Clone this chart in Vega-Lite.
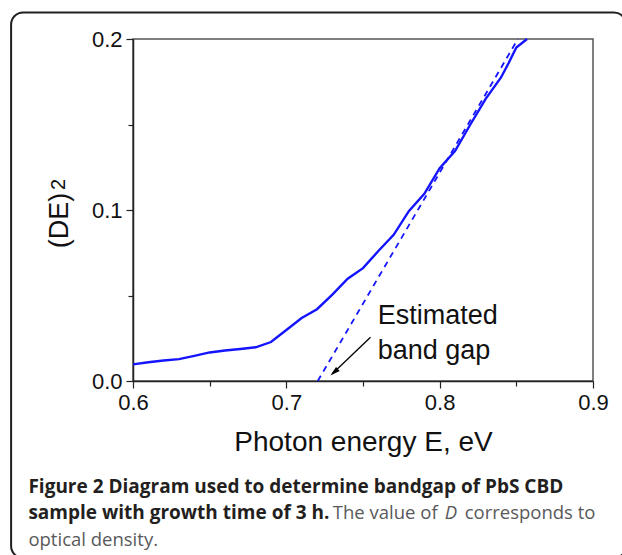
{
  "$schema": "https://vega.github.io/schema/vega-lite/v6.json",
  "autosize": {"type": "none"},
  "padding": {"left": 133, "top": 39, "right": 29, "bottom": 174},
  "width": 460,
  "height": 342,
  "background": "white",
  "config": {
    "view": {"stroke": "#555555", "strokeWidth": 1.5},
    "axis": {
      "labelFont": "Liberation Sans",
      "titleFont": "Liberation Sans",
      "labelFontSize": 22,
      "titleFontSize": 28,
      "labelColor": "#111111",
      "titleColor": "#111111",
      "titleFontWeight": "normal",
      "domainColor": "#222222",
      "domainWidth": 1.5,
      "tickColor": "#222222",
      "tickWidth": 1.2,
      "labelFlush": false,
      "labelOverlap": false,
      "grid": false
    }
  },
  "layer": [
    {
      "data": {"values": [{"x1": 0.5205, "x2": 0.9215, "y1": 0.2155, "y2": -0.1035}]},
      "mark": {"type": "rect", "fill": null, "stroke": "#231f20", "strokeWidth": 2, "cornerRadius": 12, "clip": false},
      "encoding": {
        "x": {"field": "x1", "type": "quantitative", "scale": {"domain": [0.6, 0.9], "nice": false, "zero": false}},
        "x2": {"field": "x2"},
        "y": {"field": "y1", "type": "quantitative", "scale": {"domain": [0, 0.2], "nice": false, "zero": false}},
        "y2": {"field": "y2"}
      }
    },
    {
      "data": {"values": [
        {"E": 0.60, "D": 0.0097}, {"E": 0.61, "D": 0.0110}, {"E": 0.62, "D": 0.0120},
        {"E": 0.63, "D": 0.0128}, {"E": 0.64, "D": 0.0147}, {"E": 0.65, "D": 0.0167},
        {"E": 0.66, "D": 0.0178}, {"E": 0.67, "D": 0.0187}, {"E": 0.68, "D": 0.0197},
        {"E": 0.69, "D": 0.0228}, {"E": 0.70, "D": 0.0298}, {"E": 0.71, "D": 0.0368},
        {"E": 0.72, "D": 0.0420}, {"E": 0.73, "D": 0.0505}, {"E": 0.74, "D": 0.0598},
        {"E": 0.75, "D": 0.0660}, {"E": 0.76, "D": 0.0760}, {"E": 0.77, "D": 0.0855},
        {"E": 0.78, "D": 0.0995}, {"E": 0.79, "D": 0.1095}, {"E": 0.80, "D": 0.1245},
        {"E": 0.81, "D": 0.1345}, {"E": 0.82, "D": 0.1500}, {"E": 0.83, "D": 0.1650},
        {"E": 0.84, "D": 0.1775}, {"E": 0.845, "D": 0.1860}, {"E": 0.85, "D": 0.1950},
        {"E": 0.857, "D": 0.2000}
      ]},
      "mark": {"type": "line", "color": "#1414ff", "strokeWidth": 2.4},
      "encoding": {
        "x": {"field": "E", "type": "quantitative", "scale": {"domain": [0.6, 0.9], "nice": false, "zero": false},
          "axis": {
            "title": "Photon energy E, eV",
            "values": [0.6, 0.65, 0.7, 0.75, 0.8, 0.85, 0.9],
            "labelExpr": "round(datum.value*100)%10==0 ? format(datum.value, '.1f') : ''",
            "tickSize": {"condition": {"test": "round(datum.value*100)%10==0", "value": 7}, "value": 5},
            "labelPadding": 4,
            "titleBaseline": "alphabetic",
            "titleY": 69
          }},
        "y": {"field": "D", "type": "quantitative", "scale": {"domain": [0, 0.2], "nice": false, "zero": false},
          "axis": {
            "title": "(DE)",
            "titleFontSize": 27,
            "values": [0, 0.05, 0.1, 0.15, 0.2],
            "labelExpr": "round(datum.value*100)%10==0 ? format(datum.value, '.1f') : ''",
            "tickSize": {"condition": {"test": "round(datum.value*100)%10==0", "value": 7}, "value": 5},
            "labelPadding": 4,
            "titleBaseline": "alphabetic",
            "titleAngle": -90,
            "titleX": -66,
            "titleY": 181
          }}
      }
    },
    {
      "data": {"values": [{"E": 0.5557, "D": 0.1150, "t": "2"}]},
      "mark": {"type": "text", "align": "center", "baseline": "alphabetic", "angle": 270, "font": "Liberation Sans", "fontSize": 20, "color": "#111111"},
      "encoding": {
        "x": {"field": "E", "type": "quantitative"},
        "y": {"field": "D", "type": "quantitative"},
        "text": {"field": "t"}
      }
    },
    {
      "data": {"values": [{"E": 0.7205, "D": 0}, {"E": 0.851, "D": 0.2}]},
      "mark": {"type": "line", "color": "#1414ff", "strokeWidth": 1.8, "strokeDash": [6, 5]},
      "encoding": {
        "x": {"field": "E", "type": "quantitative"},
        "y": {"field": "D", "type": "quantitative"}
      }
    },
    {
      "data": {"values": [{"E": 0.7549, "D": 0.0256}, {"E": 0.7300, "D": 0.0042}]},
      "mark": {"type": "line", "color": "#000000", "strokeWidth": 1.3},
      "encoding": {
        "x": {"field": "E", "type": "quantitative"},
        "y": {"field": "D", "type": "quantitative"}
      }
    },
    {
      "data": {"values": [{"E": 0.7287, "D": 0.0032}]},
      "mark": {"type": "point", "shape": "M0,0L-0.55,2L0.55,2Z", "size": 100, "filled": true, "color": "#000000", "opacity": 1, "angle": 229},
      "encoding": {
        "x": {"field": "E", "type": "quantitative"},
        "y": {"field": "D", "type": "quantitative"}
      }
    },
    {
      "data": {"values": [{"E": 0.7596, "D": 0.03345, "t": "Estimated"}, {"E": 0.7596, "D": 0.0130, "t": "band gap"}]},
      "mark": {"type": "text", "align": "left", "baseline": "alphabetic", "font": "Liberation Sans", "fontSize": 27, "color": "#111111"},
      "encoding": {
        "x": {"field": "E", "type": "quantitative"},
        "y": {"field": "D", "type": "quantitative"},
        "text": {"field": "t"}
      }
    },
    {
      "data": {"values": [
        {"E": 0.5318, "D": -0.0656, "t": "Figure 2 Diagram used to determine bandgap of PbS CBD"},
        {"E": 0.5318, "D": -0.0806, "t": "sample with growth time of 3 h."}
      ]},
      "mark": {"type": "text", "align": "left", "baseline": "alphabetic", "font": "Open Sans", "fontSize": 19, "fontWeight": "bold", "color": "#231f20"},
      "encoding": {
        "x": {"field": "E", "type": "quantitative"},
        "y": {"field": "D", "type": "quantitative"},
        "text": {"field": "t"}
      }
    },
    {
      "data": {"values": [
        {"E": 0.7303, "D": -0.0806, "t": "The value of"},
        {"E": 0.8163, "D": -0.0806, "t": "corresponds to"},
        {"E": 0.5318, "D": -0.0962, "t": "optical density."}
      ]},
      "mark": {"type": "text", "align": "left", "baseline": "alphabetic", "font": "Open Sans", "fontSize": 18.5, "color": "#58595b"},
      "encoding": {
        "x": {"field": "E", "type": "quantitative"},
        "y": {"field": "D", "type": "quantitative"},
        "text": {"field": "t"}
      }
    },
    {
      "data": {"values": [{"E": 0.8033, "D": -0.0806, "t": "D"}]},
      "mark": {"type": "text", "align": "left", "baseline": "alphabetic", "font": "Open Sans", "fontSize": 18.5, "fontStyle": "italic", "color": "#58595b"},
      "encoding": {
        "x": {"field": "E", "type": "quantitative"},
        "y": {"field": "D", "type": "quantitative"},
        "text": {"field": "t"}
      }
    }
  ]
}
